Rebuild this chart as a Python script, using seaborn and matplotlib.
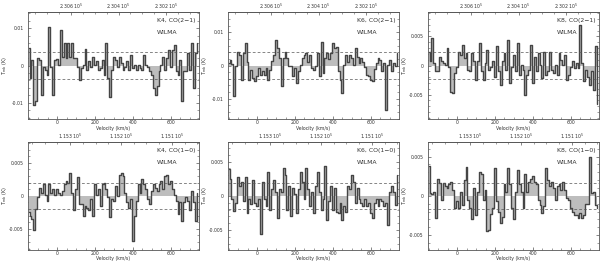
import numpy as np
import pandas as pd
import seaborn as sns
import matplotlib
matplotlib.use("Agg")
import matplotlib.pyplot as plt
from matplotlib import ticker

# channel centres (km/s)
velocity = np.arange(-150, 750, 10)

# spectra in mK
k4_co21 = [4.6, -3.4, 1.5, -10.5, -9.6, 2.0, 1.5, -7.8, -0.3, -1.2,
           -2.5, 10.4, -0.5, -7.8, 1.5, 1.7, 0.2, 9.5, 2.4, 6.1,
           2.0, 6.0, 2.4, 6.0, 2.0, 2.0, -0.3, -3.8, -0.7, 0.2,
           4.4, -1.2, 1.1, -0.3, 2.4, 0.2, 1.1, -1.2, -0.7, 1.5,
           -2.5, 6.0, -3.4, -8.3, -1.2, 2.4, 1.5, -0.3, 2.2, 0.6,
           -1.3, -0.3, 1.1, -1.2, 2.8, -0.7, 0.2, -1.2, 0.2, -0.7,
           -1.2, 2.8, 0.2, -0.3, -1.6, -2.5, -6.0, -7.8, -5.6, -1.6,
           0.2, 2.2, -1.2, 2.0, 4.2, -0.3, 4.2, 5.5, -1.6, -2.5,
           1.5, -9.6, -1.6, -1.6, 3.3, -1.2, 6.0, -6.0, 3.3, 6.0]
k6_co21 = [0.7, 1.7, 0.5, -9.3, -0.3, 4.2, 3.2, -4.3, 3.7, 6.7,
           1.0, -4.3, -1.3, -3.8, -4.8, -3.3, -0.8, -2.8, -1.8, -2.8,
           -0.8, -4.3, -1.3, 1.5, 3.2, 7.7, 5.2, 2.2, -6.3, 2.2,
           4.2, 2.2, -0.3, -0.3, -3.3, -0.8, -5.3, -1.8, 0.2, 2.2,
           3.2, 3.7, 1.2, 3.2, -0.8, -1.3, -0.3, 3.7, -3.3, 7.2,
           -2.3, 2.2, 3.7, 2.0, 3.7, 6.7, 5.2, 5.7, -1.8, -4.3,
           -8.3, 0.2, 3.2, 1.2, 3.2, 2.2, 0.2, 5.2, 2.7, 0.7,
           2.2, 1.0, -0.5, -2.8, -3.3, -4.3, -4.8, -1.0, 0.7, 2.2,
           1.7, -1.8, 0.7, -13.3, 0.2, 1.7, -1.8, 0.7, -0.3, 3.7]
k8_co21 = [2.4, 0.7, 4.7, 0.4, -1.0, -1.0, 1.5, 0.7, 0.4, 0.1,
           3.0, -0.2, -4.5, -4.7, -1.3, -0.2, 2.4, 1.8, 3.5, 1.3,
           2.1, -0.7, -1.0, 2.1, 0.7, -2.5, 0.7, 3.8, -1.0, -2.5,
           0.4, 2.7, -0.7, -0.2, 0.7, -1.9, 3.3, -1.0, -3.3, 0.7,
           2.1, -0.7, 4.4, -3.0, -0.2, 1.8, -1.0, 3.8, -1.6, 0.1,
           -0.7, -5.0, -1.6, -0.7, 3.5, -3.0, 1.5, -1.0, 2.1, 0.1,
           -2.2, 2.4, -1.6, -1.0, 2.4, -0.7, -1.3, 0.1, -1.6, 2.1,
           1.0, 0.1, 1.8, -2.5, -1.6, -0.2, 0.7, -0.5, 0.4, -0.5,
           7.0, 0.4, -2.7, -0.7, -1.9, -3.3, -1.0, -4.2, 3.3, -6.7]
k4_co10 = [-2.5, -3.0, -3.5, -5.2, -2.0, -0.2, 1.2, 0.5, 1.8, 0.2,
           -0.8, 1.8, 0.5, 1.0, 0.2, 1.0, 0.5, 0.2, 0.8, 1.8,
           2.2, 2.0, 3.5, 0.5, -2.2, 1.0, 2.8, -1.2, -1.2, -3.0,
           -1.5, -1.8, -2.2, -0.5, -3.0, 1.8, 0.2, 1.0, -1.5, 1.8,
           2.0, 1.0, -0.2, -3.2, -0.5, -0.8, 1.5, 0.0, 3.2, 3.5,
           3.0, 0.5, -1.0, -1.8, -0.5, -6.8, -3.0, -0.8, 1.8, 0.5,
           2.5, 1.8, 1.0, -0.5, -1.2, 0.8, 1.8, 1.2, 0.8, 1.8,
           2.2, 1.0, 3.0, 3.2, 1.8, 2.2, 1.0, 0.2, -0.8, -2.8,
           -1.0, -3.8, -1.0, -0.2, -0.8, -2.2, 0.8, -1.0, -3.8, 0.5]
k6_co10 = [3.9, 2.5, -0.5, -2.2, -1.0, 2.8, 1.5, 2.0, -0.8, 2.7,
           -2.5, -0.5, -1.2, 2.3, -1.0, -1.5, -0.5, -5.6, 2.0, -0.5,
           -1.5, 3.5, -2.0, 1.0, 2.3, 0.5, -3.3, 1.0, 0.5, 4.0,
           3.0, -2.0, 1.5, -3.0, 1.2, 0.3, -2.5, 1.0, 3.5, 2.0,
           -0.5, 4.0, 1.0, -1.5, 0.5, -2.5, 1.5, 3.5, 0.5, -2.0,
           -0.5, 4.4, -3.5, -0.7, 1.5, -2.0, 1.2, -2.3, -2.5, -1.0,
           -3.5, -1.5, -2.3, 1.5, 1.0, 3.0, 2.0, -1.0, 1.2, -0.5,
           -1.0, -1.5, -0.5, -1.5, -1.0, -2.5, -3.3, -1.0, -0.5, -1.5,
           -0.5, -0.8, -1.5, -1.0, -4.3, 0.5, 1.5, 0.5, -1.3, 3.0]
k8_co10 = [3.8, 0.3, 0.2, 0.5, -2.8, 2.1, 1.7, -0.5, 1.7, 1.3,
           1.0, 1.5, 1.8, 0.8, -1.5, -0.7, -1.5, 0.5, -1.2, 2.0,
           3.7, -0.5, -1.5, -3.0, 1.0, -2.5, 0.5, 3.0, 2.8, -0.5,
           0.7, -4.5, -4.3, -2.3, -1.5, 3.5, -0.7, -2.0, -3.5, -2.7,
           1.5, 0.5, 3.5, 1.5, -1.5, -3.0, 0.5, 3.3, 1.5, 0.5,
           -1.5, 2.8, 0.5, 1.8, 2.2, 2.5, 1.8, 1.5, -0.5, -1.2,
           -2.2, -1.3, 3.5, 2.0, 1.2, 1.8, 1.0, -0.5, 1.2, 1.5,
           0.8, 1.8, 0.8, -0.3, -0.5, -1.5, -2.0, -2.5, -2.5, -2.8,
           -2.2, -2.8, -2.5, -1.0, -1.0, 5.0, 0.3, 0.5, -1.2, -1.5]

names = ["K4, CO(2−1)", "K6, CO(2−1)", "K8, CO(2−1)",
         "K4, CO(1−0)", "K6, CO(1−0)", "K8, CO(1−0)"]
spectra = [k4_co21, k6_co21, k8_co21, k4_co10, k6_co10, k8_co10]
rms_mk = [3.6, 4.0, 2.3, 2.0, 1.9, 1.65]
ymax = [0.0143, 0.0161, 0.0092, 0.0082, 0.0079, 0.0069]
ystep = [0.01, 0.01, 0.005, 0.005, 0.005, 0.005]

# frequency axis (MHz) for each line
freq_ticks = {"co21": [230600, 230400, 230200], "co10": [115300, 115200, 115100]}
freq_conv = {"co21": (230600, 0.797, 73), "co10": (115300, 0.373, 69)}

df = pd.concat([pd.DataFrame({"velocity": velocity, "tmb": np.array(s) / 1000.0, "panel": n})
                for n, s in zip(names, spectra)])

sns.set_theme(style="ticks")
plt.rcParams.update({
    "font.family": ["DejaVu Sans"],
    "xtick.direction": "in", "ytick.direction": "in",
    "xtick.major.size": 2.2, "ytick.major.size": 2.2,
    "xtick.minor.size": 1.2, "ytick.minor.size": 1.2,
    "xtick.major.width": 0.5, "ytick.major.width": 0.5,
    "xtick.minor.width": 0.4, "ytick.minor.width": 0.4,
    "xtick.color": "#555555", "ytick.color": "#555555",
    "xtick.labelcolor": "#333333", "ytick.labelcolor": "#333333",
    "axes.edgecolor": "#555555", "axes.linewidth": 0.6,
})

W, H = 600, 263
fig = plt.figure(figsize=(6, 2.63), dpi=100)
lefts = [28, 228, 428]
rows = [(12, 119), (141.7, 250)]
xlabel_y = [-0.066, -0.058]

for i, name in enumerate(names):
    r, c = divmod(i, 3)
    top, bot = rows[r]
    ax = fig.add_axes([lefts[c] / W, 1 - bot / H, 171 / W, (bot - top) / H])
    sub = df[df["panel"] == name]

    ax.fill_between(sub["velocity"], sub["tmb"], 0, step="mid", color="#bdbdbd", lw=0)
    sns.lineplot(data=sub, x="velocity", y="tmb", ax=ax, drawstyle="steps-mid",
                 color="#454545", lw=1.0, estimator=None)
    rms = rms_mk[i] / 1000.0
    for yy in (rms, -rms):
        ax.axhline(yy, color="#555555", lw=0.5, ls=(0, (4, 3)))

    ax.set_xlim(-153, 748)
    ax.set_ylim(-ymax[i], ymax[i])
    ax.xaxis.set_major_locator(ticker.MultipleLocator(200))
    ax.xaxis.set_minor_locator(ticker.MultipleLocator(50))
    ax.yaxis.set_major_locator(ticker.MultipleLocator(ystep[i]))
    ax.yaxis.set_minor_locator(ticker.AutoMinorLocator(5))
    ax.yaxis.set_major_formatter(ticker.FuncFormatter(lambda y, p: "0" if abs(y) < 1e-9 else f"{y:g}"))
    ax.tick_params(axis="x", which="both", labelsize=3.3, pad=0.8, top=False)
    ax.tick_params(axis="y", which="both", labelsize=3.3, pad=3, right=True)

    ax.set_xlabel("Velocity (km/s)", fontsize=3.3, color="#333333")
    ax.xaxis.set_label_coords(0.5, xlabel_y[r])
    ax.set_ylabel("T$_{\\rm mb}$ (K)", fontsize=3.5, color="#333333")
    ax.yaxis.set_label_coords(-0.112, 0.5)

    key = "co21" if r == 0 else "co10"
    f0, k, v0 = freq_conv[key]
    sec = ax.secondary_xaxis("top", functions=(lambda v, f0=f0, k=k, v0=v0: f0 - k * (v - v0),
                                                 lambda f, f0=f0, k=k, v0=v0: v0 + (f0 - f) / k))
    sec.xaxis.set_major_locator(ticker.FixedLocator(freq_ticks[key]))
    sec.xaxis.set_minor_locator(ticker.MultipleLocator(50 if key == "co21" else 25))
    sec.xaxis.set_major_formatter(ticker.FuncFormatter(lambda f, p: f"{f / 1e5:.3f} 10$^5$"))
    sec.tick_params(axis="x", which="both", direction="in", labelsize=3.3, pad=0.6)

    ax.text(0.755, 0.92, name, transform=ax.transAxes, fontsize=4.4, va="center", color="#333333")
    ax.text(0.755, 0.81, "WILMA", transform=ax.transAxes, fontsize=4.4, va="center", color="#333333")

fig.savefig("out.png", dpi=100)
plt.close(fig)
